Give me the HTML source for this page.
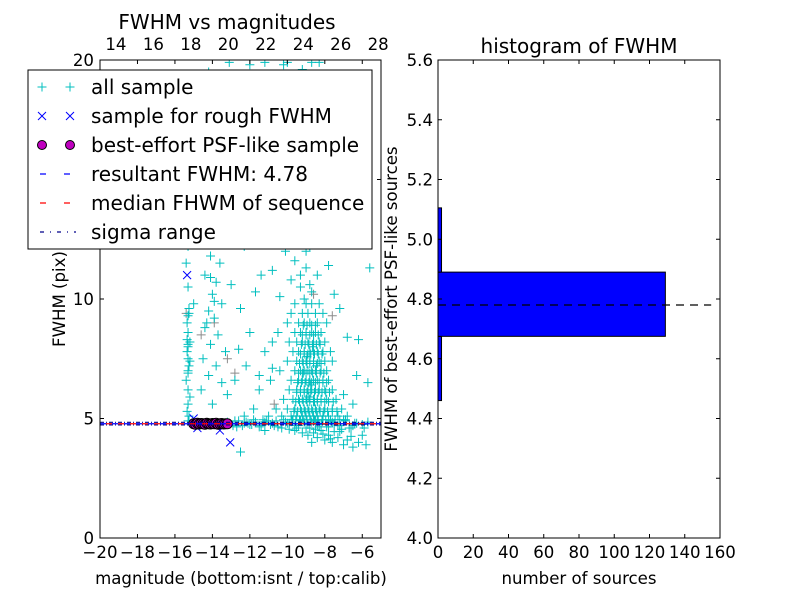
<!DOCTYPE html>
<html><head><meta charset="utf-8"><style>
html,body{margin:0;padding:0;background:#fff;}
svg{display:block;font-family:"DejaVu Sans","Liberation Sans",sans-serif;}
</style></head><body>
<svg id="c" width="800" height="600" viewBox="0 0 800 600" xmlns="http://www.w3.org/2000/svg">
<rect width="800" height="600" fill="#fff"/>
<g id="left"></g>
<g id="right"></g>
</svg>
<script>
// ---- data ----
const colAMag = [-15.3,-15.25,-15.35,-15.3,-15.2,-15.3,-15.4,-15.3,-15.25,-15.3,-15.35,-15.3,-15.2,-15.3,-15.35,-15.3,-15.25,-15.3,-15.4,-15.3,-15.2,-15.3,-15.35,-15.25,-15.3];
const colAFwhm = [4.9,5.1,5.3,5.6,5.9,6.2,6.6,6.9,7.2,7.5,7.8,8.0,8.2,8.6,9.0,9.3,9.6,10.5,11.5,7.0,7.4,8.1,8.3,9.4,12.2];
const colBMag = [-14.2,-14.0,-14.1,-13.8,-14.3,-14.0,-13.7,-14.2,-13.9,-14.1,-13.6,-14.4,-13.8,-14.0,-13.5,-14.2,-13.9,-14.4,-13.7,-14.1,-13.3,-14.5,-13.8,-14.2,-13.5,-14.6,-13.2,-14.0,-12.8,-12.5,-13.0,-12.3,-14.8,-15.0,-12.6,-12.0,-11.7,-11.4,-12.9,-13.4,-13.1,-14.3,-13.9,-14.1,-13.6];
const colBFwhm = [19.5,18,16.5,15.8,15,14.2,13.5,13,12.4,11.8,11.5,11,10.7,10.2,9.8,9.5,9.2,8.8,8.5,8.1,7.8,7.5,7.2,6.8,6.5,6.2,6.0,5.6,6.6,9.6,10.6,12.2,12.5,9.8,7.9,8.6,10.3,11.0,14.1,16.8,19.9,9.0,9.9,10.9,12.9];
const upMag = [-10.2,-9.9,-9.6,-9.4,-9.8,-9.1,-8.6,-10.0,-9.5,-8.9,-9.7,-10.3,-9.2,-8.5,-9.9,-9.4,-8.8,-10.1,-9.6,-9.0,-8.4,-9.8,-9.3,-8.7,-10.4,-9.1,-8.2,-7.8,-7.5,-8.0,-7.6,-8.9,-9.2,-8.3,-11.0,-11.3,-10.8,-11.8,-10.7,-7.2,-6.8,-6.3,-5.6,-8.1,-12.0,-11.2,-10.0,-8.7,-9.5,-9.3,-8.8,-9.0];
const upFwhm = [19.8,18.5,17.8,17,16.2,16.5,15.8,15.5,15,14.6,14.2,13.8,13.5,13.2,12.8,12.5,12.2,12,11.6,11.3,11,10.8,10.5,10.3,10.1,10,12.5,11.4,10.2,14,16,18,19.6,19.9,14.5,12.8,11.2,13.6,17.2,9.6,8.4,6.8,11.3,17.3,19.8,19.9,19.9,19.9,13.0,11.0,10.6,12.0];
const midMag = [-9.6,-9.0,-8.7,-8.3,-9.8,-9.2,-8.9,-8.5,-8.1,-10.0,-9.4,-9.1,-8.8,-8.4,-7.9,-9.6,-9.3,-9.0,-8.7,-8.5,-8.2,-10.5,-9.9,-9.5,-9.2,-8.9,-8.6,-8.3,-8.0,-10.8,-9.7,-9.4,-9.1,-8.8,-8.6,-8.4,-8.1,-7.7,-11.2,-10.0,-9.5,-9.2,-9.0,-8.8,-8.6,-8.3,-8.0,-7.6,-9.6,-9.3,-9.1,-8.9,-8.7,-8.5,-8.2,-7.9,-10.4,-9.8,-9.4,-9.2,-9.0,-8.8,-8.6,-8.4,-8.1,-7.8,-10.9,-9.9,-9.5,-9.3,-9.1,-8.9,-8.7,-8.5,-8.3,-8.0,-7.6,-11.5,-10.2,-9.7,-9.4,-9.2,-9.0,-8.8,-8.6,-8.4,-8.2,-7.9,-7.4,-10.6,-10.0,-9.6,-9.3,-9.1,-8.9,-8.7,-8.5,-8.3,-8.0,-7.6,-7.1,-11.8,-11.0,-10.3,-9.8,-9.5,-9.2,-9.0,-8.8,-8.6,-8.4,-8.1,-7.8,-7.3,-6.8,-12.3,-6.2,-5.7,-6.5,-7.0,-10.8,-11.5,-12.2,-8.95,-8.75,-8.55,-9.05,-8.65,-8.45,-9.15,-8.85];
const midFwhm = [9.8,9.8,9.8,9.8,9.4,9.4,9.4,9.4,9.4,9.0,9.0,9.0,9.0,9.0,9.0,8.6,8.6,8.6,8.6,8.6,8.6,8.6,8.2,8.2,8.2,8.2,8.2,8.2,8.2,8.2,7.8,7.8,7.8,7.8,7.8,7.8,7.8,7.8,7.8,7.4,7.4,7.4,7.4,7.4,7.4,7.4,7.4,7.4,7.0,7.0,7.0,7.0,7.0,7.0,7.0,7.0,7.0,6.6,6.6,6.6,6.6,6.6,6.6,6.6,6.6,6.6,6.6,6.2,6.2,6.2,6.2,6.2,6.2,6.2,6.2,6.2,6.2,6.2,5.8,5.8,5.8,5.8,5.8,5.8,5.8,5.8,5.8,5.8,5.8,5.4,5.4,5.4,5.4,5.4,5.4,5.4,5.4,5.4,5.4,5.4,5.4,5.4,5.1,5.1,5.1,5.1,5.1,5.1,5.1,5.1,5.1,5.1,5.1,5.1,5.1,5.1,8.3,6.5,5.6,6.0,7.1,6.8,7.2,7.6,6.4,5.7,5.3,8.0,7.2,6.9,5.9];
// dense core: one fwhm level per row, magnitudes per row
const denseRowFwhm = [8.9,8.5,8.1,7.7,7.3,6.9,6.5,6.1,5.7,5.3,4.95];
const denseRowMag = [
 [-9.15,-8.95,-8.7,-8.5],
 [-9.2,-9.0,-8.8,-8.6,-8.35],
 [-9.25,-9.05,-8.85,-8.65,-8.45,-8.25],
 [-9.3,-9.1,-8.9,-8.75,-8.55,-8.35,-8.15],
 [-9.35,-9.15,-8.95,-8.8,-8.6,-8.4,-8.2],
 [-9.4,-9.2,-9.0,-8.8,-8.65,-8.45,-8.25,-8.05],
 [-9.45,-9.25,-9.05,-8.85,-8.7,-8.5,-8.3,-8.1,-7.9],
 [-9.5,-9.3,-9.1,-8.95,-8.75,-8.55,-8.35,-8.15,-7.95,-7.75],
 [-9.55,-9.35,-9.15,-8.95,-8.8,-8.6,-8.4,-8.2,-8.0,-7.8,-7.55],
 [-9.65,-9.45,-9.25,-9.05,-8.85,-8.65,-8.45,-8.25,-8.05,-7.85,-7.6,-7.35],
 [-9.75,-9.55,-9.35,-9.15,-8.95,-8.75,-8.55,-8.35,-8.15,-7.95,-7.7,-7.45,-7.2,-6.9]
];
const bandMag = [-14.0,-13.6,-13.2,-12.9,-12.6,-12.3,-12.0,-11.7,-11.4,-11.1,-10.8,-10.5,-10.2,-9.9,-9.6,-9.3,-9.0,-8.7,-8.4,-8.1,-7.8,-7.5,-7.2,-6.9,-6.6,-6.3,-6.0,-5.7,-12.8,-12.4,-12.1,-11.8,-11.5,-11.2,-10.9,-10.6,-10.3,-10.0,-9.7,-9.4,-9.1,-8.8,-8.5,-8.2,-7.9,-7.6,-7.3,-7.0,-6.7,-6.4,-12.7,-12.2,-11.9,-11.3,-10.7,-10.1,-9.5,-8.9,-8.3,-7.7,-7.1,-6.5,-5.9];
const bandFwhm = [4.8,4.75,4.85,4.7,4.9,4.8,4.75,4.85,4.7,4.9,4.8,4.65,4.95,4.8,4.7,4.9,4.6,4.85,4.75,4.95,4.65,4.8,4.7,4.9,4.6,4.8,4.75,4.85,4.9,4.7,4.8,4.95,4.65,4.85,4.75,4.9,4.6,4.8,4.95,4.7,4.85,4.6,4.9,4.75,4.65,4.85,4.7,4.95,4.6,4.8,4.65,4.85,4.75,4.95,4.7,4.85,4.6,4.75,4.65,4.9,4.55,4.7,4.6];
const lowMag = [-9.6,-9.2,-8.9,-8.6,-8.4,-8.2,-8.0,-7.8,-7.6,-7.3,-7.0,-6.8,-6.5,-6.2,-9.9,-8.7,-7.5,-6.0,-11.2,-12.5,-5.8,-8.5,-8.1,-7.7,-7.2,-6.6];
const lowFwhm = [4.5,4.4,4.3,4.4,4.2,4.5,4.1,4.3,4.0,4.2,3.9,4.1,3.8,4.0,4.55,4.0,4.45,4.3,4.5,3.6,3.9,4.55,4.35,4.15,4.45,4.25];
const grayMag = [-15.4,-14.6,-13.9,-12.8,-10.7,-9.9,-8.6,-7.6,-9.3,-13.2];
const grayFwhm = [9.4,8.5,9.0,6.9,5.6,14.5,10.2,9.3,12.6,7.5];
const roughMag = [-15.35,-13.05,-13.6,-15.0,-14.8];
const roughFwhm = [11.0,4.0,4.5,5.0,4.6];
const psfMag = [-15.0,-14.9,-14.8,-14.7,-14.6,-14.5,-14.4,-14.3,-14.2,-14.1,-14.0,-13.9,-13.8,-13.7,-13.6,-13.5,-13.4,-13.3,-13.2];
const psfFwhm = [4.78,4.76,4.8,4.77,4.79,4.78,4.76,4.8,4.78,4.77,4.79,4.78,4.8,4.76,4.78,4.79,4.77,4.78,4.78];
const resultFwhm = 4.78, medianFwhm = 4.78, sigmaLow = 4.73, sigmaHigh = 4.84;
const binEdges = [4.46,4.675,4.89,5.105];
const binCounts = [2,129,2];
const leftXTicks = [-20,-18,-16,-14,-12,-10,-8,-6];
const topXTicks = [14,16,18,20,22,24,26,28];
const leftYTicks = [0,5,10,15,20];
const rightXTicks = [0,20,40,60,80,100,120,140,160];
const rightYTicks = [4.0,4.2,4.4,4.6,4.8,5.0,5.2,5.4,5.6];
const topOffset = 33.15;

// ---- helpers ----
const NS='http://www.w3.org/2000/svg';
function mk(parent,tag,attrs,txt){const e=document.createElementNS(NS,tag);for(const k in attrs)e.setAttribute(k,attrs[k]);if(txt!==undefined)e.textContent=txt;parent.appendChild(e);return e;}
const L={x0:100,x1:381,y0:60,y1:538,xmin:-20,xmax:-5,ymin:0,ymax:20};
const R={x0:438,x1:720,y0:60,y1:538,xmin:0,xmax:160,ymin:4.0,ymax:5.6};
const lx=v=>L.x0+(v-L.xmin)/(L.xmax-L.xmin)*(L.x1-L.x0);
const ly=v=>L.y1-(v-L.ymin)/(L.ymax-L.ymin)*(L.y1-L.y0);
const rx=v=>R.x0+(v-R.xmin)/(R.xmax-R.xmin)*(R.x1-R.x0);
const ry=v=>R.y1-(v-R.ymin)/(R.ymax-R.ymin)*(R.y1-R.y0);
const left=document.getElementById('left'), right=document.getElementById('right');

// ---- left panel ----
const plot=mk(left,'g',{});


mk(plot,'rect',{x:L.x0,y:L.y0,width:L.x1-L.x0,height:L.y1-L.y0,fill:'#fff'});
mk(plot,'clipPath',{id:'lc'}).appendChild(document.createElementNS(NS,'rect'));
const cr=document.querySelector('#lc rect');cr.setAttribute('x',L.x0);cr.setAttribute('y',L.y0);cr.setAttribute('width',L.x1-L.x0);cr.setAttribute('height',L.y1-L.y0);
const marks=mk(plot,'g',{'clip-path':'url(#lc)'});
function plus(g,x,y,col,name){const p=mk(g,'path',{d:`M${x-4.5},${y}h9M${x},${y-4.5}v9`,stroke:col,'stroke-width':1,fill:'none'});

}
function drawPlus(ms,fs,col,name){for(let i=0;i<ms.length;i++)plus(marks,lx(ms[i]),ly(fs[i]),col,name);}
drawPlus(grayMag,grayFwhm,'#8c8c8c','all-sample-point');
drawPlus(colAMag,colAFwhm,'#00bfbf','all-sample-point');
drawPlus(colBMag,colBFwhm,'#00bfbf','all-sample-point');
drawPlus(upMag,upFwhm,'#00bfbf','all-sample-point');
drawPlus(midMag,midFwhm,'#00bfbf','all-sample-point');
denseRowFwhm.forEach((f,r)=>denseRowMag[r].forEach(m=>plus(marks,lx(m),ly(f),'#00bfbf','all-sample-point')));
drawPlus(bandMag,bandFwhm,'#00bfbf','all-sample-point');
drawPlus(lowMag,lowFwhm,'#00bfbf','all-sample-point');
for(let i=0;i<roughMag.length;i++){const x=lx(roughMag[i]),y=ly(roughFwhm[i]);
const p=mk(marks,'path',{d:`M${x-4},${y-4}L${x+4},${y+4}M${x-4},${y+4}L${x+4},${y-4}`,stroke:'#0000ff','stroke-width':1,fill:'none'});

}
for(let i=0;i<psfMag.length;i++){const c=mk(marks,'circle',{cx:lx(psfMag[i]),cy:ly(psfFwhm[i]),r:5,fill:'#bf00bf',stroke:'#000','stroke-width':1});

}
function hline(g,y,col,dash,name,xa,xb){const l=mk(g,'line',{x1:xa,x2:xb,y1:y,y2:y,stroke:col,'stroke-width':1.2,'stroke-dasharray':dash});

}
hline(marks,ly(sigmaLow),'#00008b','4,2,1,2','sigma-range-low',L.x0,L.x1);
hline(marks,ly(sigmaHigh),'#00008b','4,2,1,2','sigma-range-high',L.x0,L.x1);
hline(marks,ly(resultFwhm),'#0000ff','6,6','resultant-fwhm-line',L.x0,L.x1);
hline(marks,ly(medianFwhm),'#ff0000','6,6','median-fwhm-line',L.x0+6,L.x1);
mk(plot,'rect',{x:L.x0,y:L.y0,width:L.x1-L.x0,height:L.y1-L.y0,fill:'none',stroke:'#000','stroke-width':1});

const ax=mk(left,'g',{'font-size':'16.6',fill:'#000'});
leftXTicks.forEach(v=>{const x=lx(v);mk(ax,'path',{d:`M${x},${L.y1}v-4M${x},${L.y0}v4`,stroke:'#000'});
const t=mk(ax,'text',{x:x,y:L.y1+20,'text-anchor':'middle'},(v<0?'\u2212'+(-v):v));

});
topXTicks.forEach(v=>{const x=lx(v-topOffset);
const t=mk(ax,'text',{x:x,y:L.y0-10,'text-anchor':'middle'},v);

});
leftYTicks.forEach(v=>{const y=ly(v);mk(ax,'path',{d:`M${L.x0},${y}h4M${L.x1},${y}h-4`,stroke:'#000'});
const t=mk(ax,'text',{x:L.x0-6,y:y+6,'text-anchor':'end'},v);

});
let t;
t=mk(ax,'text',{x:227,y:29,'text-anchor':'middle','font-size':'20'},'FWHM vs magnitudes');


t=mk(ax,'text',{x:241,y:584,'text-anchor':'middle'},'magnitude (bottom:isnt / top:calib)');


t=mk(ax,'text',{x:65,y:299,'text-anchor':'middle',transform:'rotate(-90 65 299)'},'FWHM (pix)');



// legend
const lg=mk(left,'g',{'font-size':'20'});


mk(lg,'rect',{x:28,y:70,width:344,height:179,fill:'#fff',stroke:'#000','stroke-width':1});
const labels=['all sample','sample for rough FWHM','best-effort PSF-like sample','resultant FWHM: 4.78','median FHWM of sequence','sigma range'];
labels.forEach((s,i)=>{const y=87+i*29;const e=mk(lg,'g',{});


if(i===0){[42,70].forEach(x=>mk(e,'path',{d:`M${x-4.5},${y}h9M${x},${y-4.5}v9`,stroke:'#00bfbf',fill:'none'}));}
if(i===1){[42,70].forEach(x=>mk(e,'path',{d:`M${x-4},${y-4}L${x+4},${y+4}M${x-4},${y+4}L${x+4},${y-4}`,stroke:'#0000ff',fill:'none'}));}
if(i===2){[42,70].forEach(x=>mk(e,'circle',{cx:x,cy:y,r:4.5,fill:'#bf00bf',stroke:'#000'}));}
if(i===3)mk(e,'line',{x1:40,x2:76,y1:y,y2:y,stroke:'#0000ff','stroke-width':1.2,'stroke-dasharray':'6,18'});
if(i===4)mk(e,'line',{x1:40,x2:76,y1:y,y2:y,stroke:'#ff0000','stroke-width':1.2,'stroke-dasharray':'6,18'});
if(i===5)mk(e,'line',{x1:40,x2:76,y1:y,y2:y,stroke:'#00008b','stroke-width':1.2,'stroke-dasharray':'4,6,1,6'});
mk(e,'text',{x:91,y:y+7},s);});

// ---- right panel ----
const rp=mk(right,'g',{});
mk(rp,'rect',{x:R.x0,y:R.y0,width:R.x1-R.x0,height:R.y1-R.y0,fill:'#fff'});
binCounts.forEach((c,i)=>{const y0=ry(binEdges[i+1]),y1=ry(binEdges[i]);
const b=mk(rp,'rect',{x:rx(0),y:y0,width:rx(c)-rx(0),height:y1-y0,fill:'#0000ff',stroke:'#000','stroke-width':1});

});
hline(rp,ry(resultFwhm),'#000','8,6','histogram-fwhm-line',rx(0),rx(155));
mk(rp,'rect',{x:R.x0,y:R.y0,width:R.x1-R.x0,height:R.y1-R.y0,fill:'none',stroke:'#000','stroke-width':1});
const ra=mk(right,'g',{'font-size':'16.6'});
rightXTicks.forEach(v=>{const x=rx(v);mk(ra,'path',{d:`M${x},${R.y1}v-4M${x},${R.y0}v4`,stroke:'#000'});
const t=mk(ra,'text',{x:x,y:R.y1+20,'text-anchor':'middle'},v);

});
rightYTicks.forEach(v=>{const y=ry(v);mk(ra,'path',{d:`M${R.x0},${y}h4M${R.x1},${y}h-4`,stroke:'#000'});
const t=mk(ra,'text',{x:R.x0-5,y:y+6,'text-anchor':'end'},v.toFixed(1));

});
t=mk(ra,'text',{x:579,y:53,'text-anchor':'middle','font-size':'20'},'histogram of FWHM');


t=mk(ra,'text',{x:579,y:584,'text-anchor':'middle'},'number of sources');


t=mk(ra,'text',{x:397,y:299,'text-anchor':'middle',transform:'rotate(-90 397 299)'},'FWHM of best-effort PSF-like sources');


</script>
</body></html>
